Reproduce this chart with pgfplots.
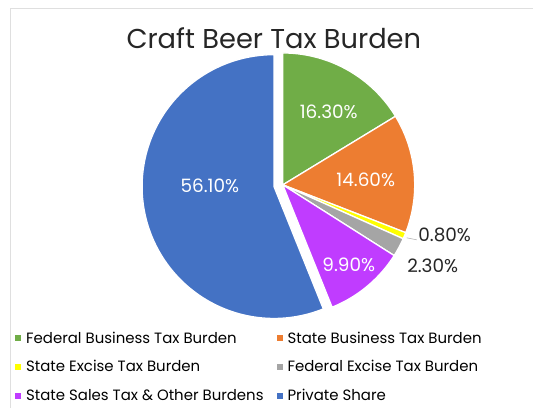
\documentclass[border=0pt]{standalone}
\usepackage{fontspec}
\setmainfont{Poppins}
\usepackage{pgfplots}
\pgfplotsset{compat=1.18}
\definecolor{cgreen}{HTML}{70AD47}
\definecolor{corange}{HTML}{ED7D31}
\definecolor{cyellow}{HTML}{FFFF00}
\definecolor{cgray}{HTML}{A5A5A5}
\definecolor{cpurple}{HTML}{C03CFF}
\definecolor{cblue}{HTML}{4472C4}
\def\cx{283}\def\cy{185}\def\r{132}
\def\cum{0}
% #1 value (percent), #2 colour, #3 dx, #4 dy (explosion, pixels)
\newcommand\slice[4]{%
  \pgfmathsetmacro\aEnd{90-3.6*\cum}%
  \pgfmathsetmacro\newcum{\cum+#1}%
  \pgfmathsetmacro\aStart{90-3.6*\newcum}%
  \xdef\cum{\newcum}%
  \pgfmathsetmacro\px{\cx+#3}%
  \pgfmathsetmacro\py{\cy+#4}%
  \edef\tmp{\noexpand\addplot[fill=#2, draw=white, line width=1.3bp, domain=\aStart:\aEnd, samples=120, forget plot] ({\px+\r*cos(x)},{\py-\r*sin(x)}) -- (axis cs:\px,\py) -- cycle;}%
  \tmp
}
\begin{document}
\begin{tikzpicture}
\begin{axis}[
  width=533bp, height=408bp, scale only axis,
  xmin=0, xmax=533, ymin=0, ymax=408, y dir=reverse,
  hide axis, clip=false,
  legend columns=2,
  legend cell align=left,
  legend image code/.code={\fill[#1, draw=none] (0bp,-3bp) rectangle (6bp,3bp);},
  legend style={at={(axis cs:15,330)}, anchor=north west, draw=none, fill=none,
    font=\fontsize{15}{17}\selectfont, row sep=11.8bp, inner sep=0pt,
    nodes={inner xsep=1bp, inner ysep=2bp},
    /tikz/every odd column/.append style={column sep=4bp},
    /tikz/every even column/.append style={column sep=12bp}},
]
\path (rel axis cs:0,0) rectangle (rel axis cs:1,1);
\draw[gray!25, line width=0.8bp] (axis cs:10,408) -- (axis cs:10,8) -- (axis cs:533,8);
\slice{16.3}{cgreen}{0}{0}
\slice{14.6}{corange}{0}{0}
\slice{0.8}{cyellow}{0}{0}
\slice{2.3}{cgray}{0}{0}
\slice{9.9}{cpurple}{0}{0}
\slice{56.1}{cblue}{-8.8}{1.7}
\addlegendimage{fill=cgreen}\addlegendentry{Federal Business Tax Burden}
\addlegendimage{fill=corange}\addlegendentry{State Business Tax Burden}
\addlegendimage{fill=cyellow}\addlegendentry{State Excise Tax Burden}
\addlegendimage{fill=cgray}\addlegendentry{Federal Excise Tax Burden}
\addlegendimage{fill=cpurple}\addlegendentry{State Sales Tax \& Other Burdens}
\addlegendimage{fill=cblue}\addlegendentry{Private Share}
\draw[gray!60, line width=0.6bp] (axis cs:407,238) -- (axis cs:417,240);
\begin{scope}[every node/.style={font=\fontsize{18.5}{22}\selectfont}]
\node[white] at (axis cs:329,112) {16.30\%};
\node[white] at (axis cs:366,180) {14.60\%};
\node[white] at (axis cs:210,186) {56.10\%};
\node[white] at (axis cs:349,265) {9.90\%};
\node[black!85] at (axis cs:445,235) {0.80\%};
\node[black!85] at (axis cs:433,266) {2.30\%};
\end{scope}
\node[black!85, font=\fontsize{27.4}{31}\selectfont] at (axis cs:274,38) {Craft Beer Tax Burden};
\end{axis}
\end{tikzpicture}
\end{document}
